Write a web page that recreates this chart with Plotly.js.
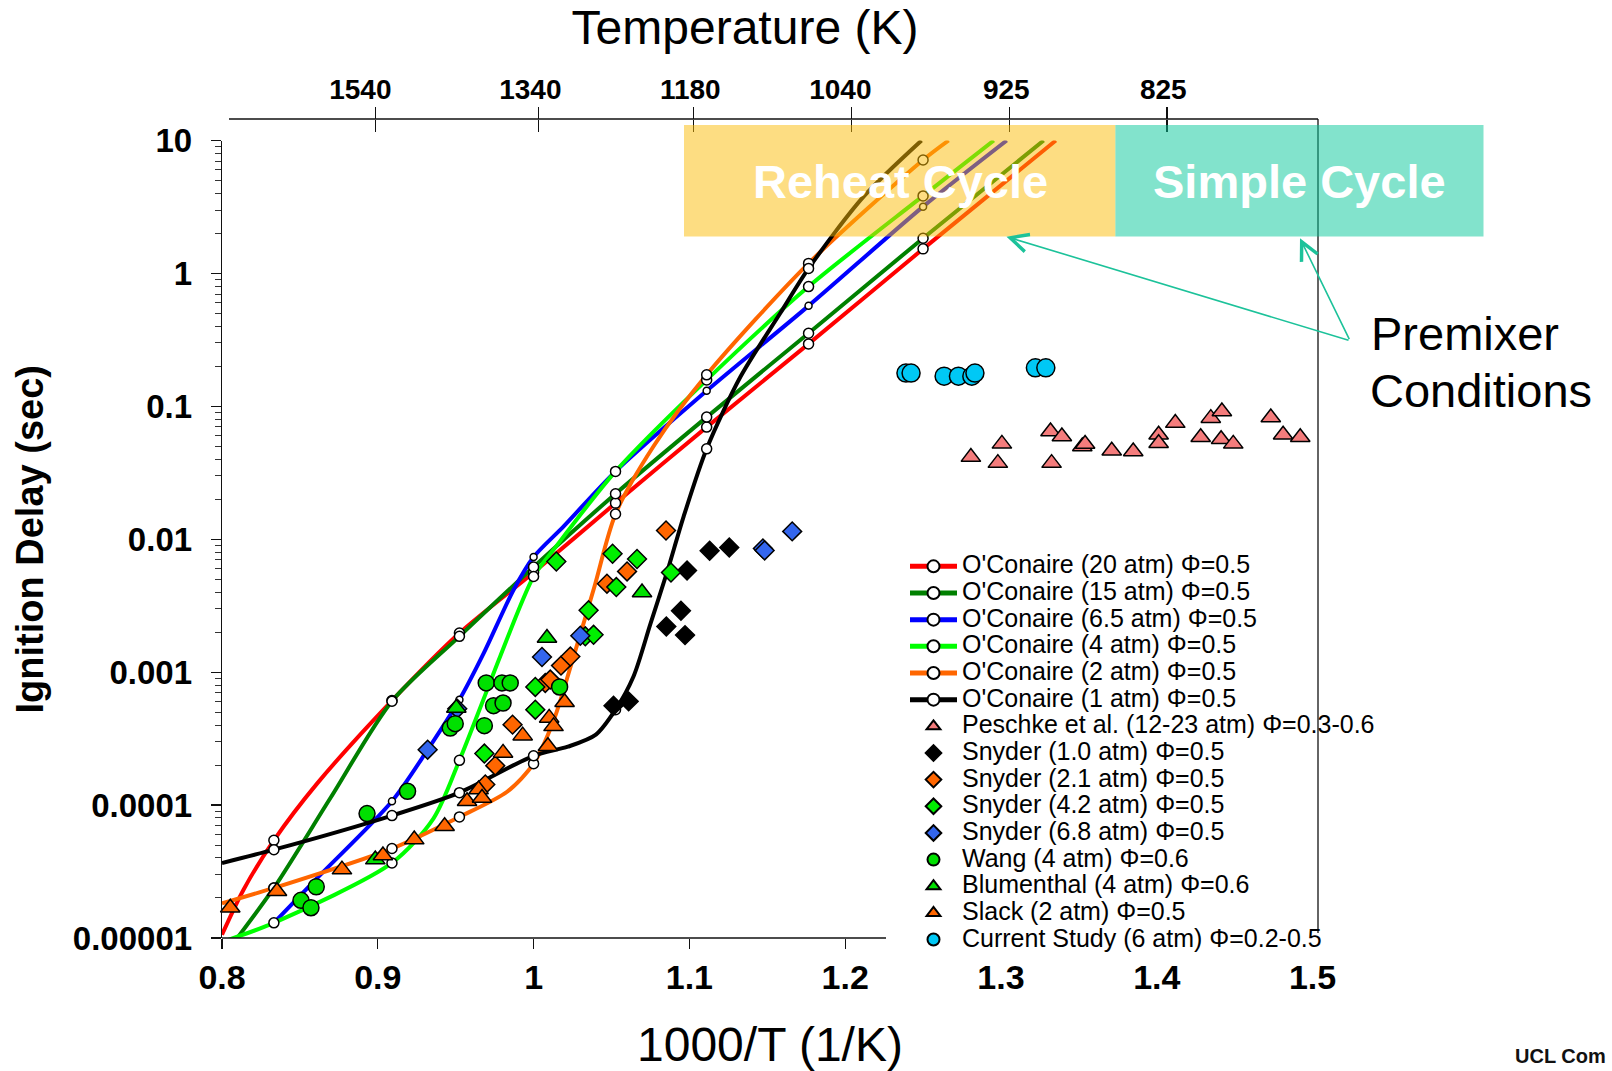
<!DOCTYPE html>
<html><head><meta charset="utf-8">
<script src="https://cdn.plot.ly/plotly-3.0.1.min.js"></script>
<style>html,body{margin:0;padding:0;background:#fff;overflow:hidden}</style>
</head><body><div id="chart" style="width:1612px;height:1071px"></div>
<script>
// ---------------- DATA ----------------
// model points (open circles) at 1000/T = 1200,1100,1050,1000,950,900,850,800 K
const modelX = [0.8333, 0.9091, 0.9524, 1.0, 1.0526, 1.1111, 1.1765, 1.25];
const oc20Pts = [5.43e-5, 6.11e-4, 1.97e-3, 5.62e-3, 0.0187, 0.0698, 0.295, 1.53];
const oc15Pts = [2.38e-5, 6.05e-4, 1.86e-3, 6.18e-3, 0.0220, 0.0830, 0.355, 1.84];
const oc65Pts = [1.30e-5, 1.07e-4, 6.21e-4, 7.35e-3, 0.0324, 0.131, 0.570, 3.18];
const oc4Pts  = [1.30e-5, 3.67e-5, 2.17e-4, 5.25e-3, 0.0324, 0.158, 0.796, 3.83];
const oc2Pts  = [2.38e-5, 4.71e-5, 8.15e-5, 2.05e-4, 0.0155, 0.1726, 1.19, 7.13];
const oc1Pts  = [4.62e-5, 8.34e-5, 1.24e-4, 2.35e-4, 5.22e-4, 0.0479, 1.09, null];

// model curves
const oc20LineX = [0.8, 0.8139, 0.8333, 0.861, 0.9091, 0.9524, 1.0, 1.0526, 1.1111, 1.1765, 1.25, 1.3352];
const oc20LineY = [1.06e-5, 2.32e-5, 5.43e-5, 1.45e-4, 6.11e-4, 1.97e-3, 5.62e-3, 0.0187, 0.0698, 0.295, 1.53, 10];
const oc15LineX = [0.8, 0.8333, 0.87, 0.9091, 0.9524, 1.0, 1.0526, 1.1111, 1.1765, 1.25, 1.3274];
const oc15LineY = [7.05e-6, 2.38e-5, 1.15e-4, 6.05e-4, 1.86e-3, 6.18e-3, 0.0220, 0.0830, 0.355, 1.84, 10];
const oc65LineX = [0.8333, 0.861, 0.9091, 0.932, 0.9524, 0.968, 0.9872, 1.0, 1.0193, 1.0526, 1.1111, 1.1765, 1.25, 1.3037];
const oc65LineY = [1.30e-5, 2.82e-5, 1.07e-4, 2.61e-4, 6.21e-4, 1.39e-3, 4.17e-3, 7.35e-3, 0.0125, 0.0324, 0.131, 0.570, 3.18, 10];
const oc4LineX = [0.8, 0.8333, 0.9091, 0.9358, 0.9524, 0.968, 0.9786, 1.0, 1.0128, 1.0526, 1.1111, 1.1765, 1.25, 1.2954];
const oc4LineY = [9.33e-6, 1.30e-5, 3.67e-5, 7.94e-5, 2.17e-4, 6.31e-4, 1.32e-3, 5.25e-3, 8.34e-3, 0.0324, 0.158, 0.796, 3.83, 10];
const oc2LineX = [0.8, 0.8333, 0.9091, 0.9524, 0.983, 1.0, 1.013, 1.026, 1.039, 1.0526, 1.077, 1.1111, 1.1765, 1.25, 1.2664];
const oc2LineY = [1.82e-5, 2.38e-5, 4.71e-5, 8.15e-5, 1.26e-4, 2.05e-4, 4.37e-4, 1.35e-3, 4.37e-3, 0.0155, 0.0501, 0.1726, 1.19, 7.13, 10];
const oc1LineX = [0.8, 0.8333, 0.9091, 0.9524, 1.0, 1.022, 1.04, 1.0526, 1.0642, 1.0749, 1.0856, 1.0963, 1.1111, 1.1327, 1.1583, 1.1765, 1.2118, 1.249];
const oc1LineY = [3.67e-5, 4.62e-5, 8.34e-5, 1.24e-4, 2.35e-4, 2.75e-4, 3.39e-4, 5.22e-4, 9.33e-4, 2.29e-3, 5.62e-3, 0.0148, 0.0479, 0.166, 0.501, 1.09, 3.78, 10];

// experimental data
const peschkeX = [1.2807, 1.3006, 1.2980, 1.3318, 1.3391, 1.3325, 1.3522, 1.3540, 1.3711, 1.3849, 1.4012, 1.4012, 1.4119, 1.4282, 1.4347, 1.4418, 1.4413, 1.4491, 1.4732, 1.4811, 1.4921];
const peschkeY = [0.0415, 0.0522, 0.0374, 0.0647, 0.0593, 0.0374, 0.0499, 0.0520, 0.0463, 0.0457, 0.0611, 0.0528, 0.0748, 0.0586, 0.0815, 0.0914, 0.0566, 0.0522, 0.0824, 0.0611, 0.0586];
const snyder10X = [1.0513, 1.0610, 1.0852, 1.0946, 1.0972, 1.0985, 1.1130, 1.1256];
const snyder10Y = [5.6e-4, 6.03e-4, 2.21e-3, 2.9e-3, 1.9e-3, 5.82e-3, 8.2e-3, 8.67e-3];
const snyder21X = [0.9690, 0.9754, 0.9865, 1.0075, 1.0107, 1.0176, 1.0236, 1.0471, 1.0600, 1.0850];
const snyder21Y = [1.43e-4, 1.98e-4, 4.03e-4, 8.3e-4, 8.79e-4, 1.12e-3, 1.31e-3, 4.63e-3, 5.73e-3, 0.01164];
const snyder42X = [0.9684, 1.0011, 1.0011, 1.0146, 1.0332, 1.0353, 1.0385, 1.0507, 1.0531, 1.0664, 1.0882];
const snyder42Y = [2.44e-4, 5.22e-4, 7.74e-4, 6.8e-3, 1.86e-3, 2.92e-3, 1.91e-3, 7.78e-3, 4.37e-3, 7.1e-3, 5.62e-3];
const snyder68X = [0.932, 0.951, 1.0054, 1.030, 1.1472, 1.1483, 1.166];
const snyder68Y = [2.61e-4, 5.31e-4, 1.30e-3, 1.88e-3, 8.53e-3, 8.24e-3, 0.01146];
const wangX = [0.8507, 0.8571, 0.8605, 0.8931, 0.9191, 0.9465, 0.9497, 0.9684, 0.9696, 0.9743, 0.9797, 0.9804, 0.9850, 1.0167];
const wangY = [1.92e-5, 1.69e-5, 2.43e-5, 8.63e-5, 1.27e-4, 3.8e-4, 4.1e-4, 3.96e-4, 8.3e-4, 5.6e-4, 8.3e-4, 5.86e-4, 8.3e-4, 7.74e-4];
const blumX = [0.8984, 0.9504, 1.0086, 1.0696];
const blumY = [3.89e-5, 5.38e-4, 1.81e-3, 3.98e-3];
const slackX = [0.8053, 0.8353, 0.8770, 0.9033, 0.9234, 0.9429, 0.9573, 0.9647, 0.9669, 0.9804, 0.9930, 1.0092, 1.0100, 1.0128, 1.0199];
const slackY = [1.69e-5, 2.25e-5, 3.27e-5, 4.17e-5, 5.5e-5, 6.93e-5, 1.07e-4, 1.31e-4, 1.13e-4, 2.47e-4, 3.33e-4, 2.77e-4, 4.53e-4, 3.91e-4, 5.93e-4];
const currentX = [1.2390, 1.2423, 1.2635, 1.2727, 1.2813, 1.2833, 1.3221, 1.3288];
const currentY = [0.178, 0.178, 0.1686, 0.1686, 0.1686, 0.178, 0.1948, 0.1948];

// tick labels
const xTickVals = [0.8, 0.9, 1.0, 1.1, 1.2, 1.3, 1.4, 1.5];
const xTickText = ['0.8', '0.9', '1', '1.1', '1.2', '1.3', '1.4', '1.5'];
const xTickMarks = [0.8, 0.9, 1.0, 1.1, 1.2];
const yTickVals = [10, 1, 0.1, 0.01, 0.001, 0.0001, 0.00001];
const yTickText = ['10', '1', '0.1', '0.01', '0.001', '0.0001', '0.00001'];
const topTickPos = [0.8984, 1.0032, 1.1027, 1.2042, 1.3056, 1.4067];
const topLabelPos = [0.8888, 0.9979, 1.1006, 1.1969, 1.3034, 1.4042];
const topLabels = ['1540', '1340', '1180', '1040', '925', '825'];

// ---------------- LAYOUT HELPERS ----------------
const FONT = 'Liberation Sans, Arial, Helvetica, sans-serif';
const L = 222, R = 1318, T = 119, B = 938;
const px = v => (v - L) / (R - L);
const py = v => (B - v) / (B - T);
const xRange = [0.8, 1.5035];

const curves = [
  {name: "O'Conaire (20 atm) Φ=0.5", lx: oc20LineX, ly: oc20LineY, py: oc20Pts, color: '#FF0000', ms: 10},
  {name: "O'Conaire (15 atm) Φ=0.5", lx: oc15LineX, ly: oc15LineY, py: oc15Pts, color: '#008000', ms: 10},
  {name: "O'Conaire (6.5 atm) Φ=0.5", lx: oc65LineX, ly: oc65LineY, py: oc65Pts, color: '#0000FF', ms: 7},
  {name: "O'Conaire (4 atm) Φ=0.5", lx: oc4LineX, ly: oc4LineY, py: oc4Pts, color: '#00FF00', ms: 10},
  {name: "O'Conaire (2 atm) Φ=0.5", lx: oc2LineX, ly: oc2LineY, py: oc2Pts, color: '#FF6600', ms: 10},
  {name: "O'Conaire (1 atm) Φ=0.5", lx: oc1LineX, ly: oc1LineY, py: oc1Pts, color: '#000000', ms: 10}
];
const lg = s => '<span style="font-size:25px">' + s + '</span>';

const traces = [];
curves.forEach(c => {
  traces.push({
    type: 'scatter', mode: 'lines+markers', x: c.lx, y: c.ly, name: lg(c.name),
    line: {color: c.color, width: 4, shape: 'spline', smoothing: 0.8},
    marker: {size: c.ms, color: '#FFFFFF', line: {color: '#000', width: 1.5}},
    selectedpoints: [], unselected: {marker: {opacity: 0}},
    hoverinfo: 'skip'
  });
});
curves.forEach(c => {
  traces.push({
    type: 'scatter', mode: 'markers', x: modelX, y: c.py, showlegend: false,
    marker: {size: c.ms, color: '#FFFFFF', line: {color: '#000', width: 1.5}},
    cliponaxis: false, hoverinfo: 'skip'
  });
});
const sc = (name, x, y, symbol, color, size) => ({
  type: 'scatter', mode: 'markers', x: x, y: y, name: lg(name), cliponaxis: false,
  marker: {symbol: symbol, size: size, color: color, line: {color: '#000', width: 1.5}}
});
traces.push(sc('Peschke et al. (12-23 atm) Φ=0.3-0.6', peschkeX, peschkeY, 'triangle-up', '#F47C7C', 17));
traces.push(sc('Snyder (1.0 atm) Φ=0.5', snyder10X, snyder10Y, 'diamond', '#000000', 14.5));
traces.push(sc('Snyder (2.1 atm) Φ=0.5', snyder21X, snyder21Y, 'diamond', '#FF6600', 14.5));
traces.push(sc('Snyder (4.2 atm) Φ=0.5', snyder42X, snyder42Y, 'diamond', '#00F000', 14.5));
traces.push(sc('Snyder (6.8 atm) Φ=0.5', snyder68X, snyder68Y, 'diamond', '#3366EE', 14.5));
traces.push(sc('Wang (4 atm) Φ=0.6', wangX, wangY, 'circle', '#00E000', 16));
traces.push(sc('Blumenthal (4 atm) Φ=0.6', blumX, blumY, 'triangle-up', '#00E000', 17));
traces.push(sc('Slack (2 atm) Φ=0.5', slackX, slackY, 'triangle-up', '#FF6600', 17));
traces.push(sc('Current Study (6 atm) Φ=0.2-0.5', currentX, currentY, 'circle', '#00C8F5', 18));
// empty carriers so the decorative overlay axes get drawn
['x2', 'x3', 'x4', 'x5'].forEach(ax => traces.push({
  type: 'scatter', mode: 'markers', x: [], y: [], xaxis: ax, yaxis: 'y', showlegend: false, hoverinfo: 'skip'
}));

const noGrid = {showgrid: false, zeroline: false};
const layout = {
  width: 1612, height: 1071, autosize: false,
  paper_bgcolor: '#FFFFFF', plot_bgcolor: '#FFFFFF',
  margin: {l: L, r: 1612 - R, t: T, b: 1071 - B, pad: 0},
  font: {family: FONT, color: '#000'},
  showlegend: true,
  title: {text: 'Temperature (K)', font: {family: FONT, size: 48, color: '#000'},
          xref: 'container', x: 745 / 1612, xanchor: 'center',
          yref: 'container', y: 1 - 27.5 / 1071, yanchor: 'middle'},
  xaxis: Object.assign({
    range: xRange, tickmode: 'array', tickvals: xTickVals, ticktext: xTickText,
    ticks: '', showline: false, ticklabelstandoff: 16,
    tickfont: {family: FONT, size: 34, weight: 'bold', color: '#000'},
    title: {text: '1000/T (1/K)', font: {family: FONT, size: 48, color: '#000'}, standoff: 35}
  }, noGrid),
  xaxis5: Object.assign({
    overlaying: 'x', anchor: 'y', side: 'bottom', range: xRange,
    tickmode: 'array', tickvals: xTickMarks, ticks: 'outside', ticklen: 10, tickwidth: 1.3,
    tickcolor: '#111', showticklabels: false, showline: false
  }, noGrid),
  xaxis2: Object.assign({
    overlaying: 'x', anchor: 'free', position: 1, side: 'top', range: xRange,
    tickmode: 'array', tickvals: topTickPos, ticks: 'outside', ticklen: 12, tickwidth: 1.5,
    tickcolor: '#111', showticklabels: false, showline: false
  }, noGrid),
  xaxis3: Object.assign({
    overlaying: 'x', anchor: 'free', position: 1, side: 'top', range: xRange,
    tickmode: 'array', tickvals: topTickPos, ticks: 'inside', ticklen: 12, tickwidth: 1.5,
    tickcolor: '#111', showticklabels: false, showline: false
  }, noGrid),
  xaxis4: Object.assign({
    overlaying: 'x', anchor: 'free', position: 1, side: 'top', range: xRange,
    tickmode: 'array', tickvals: topLabelPos, ticktext: topLabels, ticks: '',
    showline: false, ticklabelstandoff: 14,
    tickfont: {family: FONT, size: 28, weight: 'bold', color: '#000'}
  }, noGrid),
  yaxis: Object.assign({
    type: 'log', range: [-5, 1], domain: [0, (B - 140.5) / (B - T)],
    tickmode: 'array', tickvals: yTickVals, ticktext: yTickText,
    ticks: 'outside', ticklen: 10, tickwidth: 1.3, tickcolor: '#111',
    showline: true, linecolor: '#111', linewidth: 1.3,
    minor: {ticks: 'outside', ticklen: 6, tickwidth: 1, tickcolor: '#333', dtick: 'D1'},
    tickfont: {family: FONT, size: 33, weight: 'bold', color: '#000'},
    ticklabelstandoff: 12,
    title: {text: 'Ignition Delay (sec)', font: {family: FONT, size: 38, weight: 'bold', color: '#000'}, standoff: 17}
  }, noGrid),
  legend: {
    x: px(905), y: py(548), xanchor: 'left', yanchor: 'top',
    bgcolor: 'rgba(0,0,0,0)', borderwidth: 0,
    font: {family: FONT, size: 18.2, color: '#000'},
    itemwidth: 47, itemsizing: 'constant', tracegroupgap: 0
  },
  shapes: [
    {type: 'line', xref: 'paper', yref: 'paper', x0: 1, x1: 1, y0: py(933), y1: 1, line: {color: '#111', width: 1.3}, layer: 'above'},
    {type: 'line', xref: 'paper', yref: 'paper', x0: px(229), x1: 1, y0: 1, y1: 1, line: {color: '#111', width: 1.3}, layer: 'above'},
    {type: 'line', xref: 'paper', yref: 'paper', x0: 0, x1: px(886), y0: 0, y1: 0, line: {color: '#111', width: 1.3}, layer: 'above'},
    {type: 'rect', xref: 'paper', yref: 'paper', x0: px(684), x1: px(1115.4), y0: py(236.5), y1: py(125),
     fillcolor: 'rgb(252,188,6)', opacity: 0.5, line: {width: 0}, layer: 'above'},
    {type: 'rect', xref: 'paper', yref: 'paper', x0: px(1115.4), x1: px(1483.5), y0: py(236.5), y1: py(125),
     fillcolor: 'rgb(5,199,153)', opacity: 0.5, line: {width: 0}, layer: 'above'}
  ],
  annotations: [
    {text: 'Reheat Cycle', xref: 'paper', yref: 'paper', x: px(900), y: py(182), xanchor: 'center', yanchor: 'middle',
     showarrow: false, font: {family: FONT, size: 47, weight: 'bold', color: '#FFFFFF'}},
    {text: 'Simple Cycle', xref: 'paper', yref: 'paper', x: px(1299.5), y: py(182), xanchor: 'center', yanchor: 'middle',
     showarrow: false, font: {family: FONT, size: 47, weight: 'bold', color: '#FFFFFF'}},
    {text: 'Premixer', xref: 'paper', yref: 'paper', x: px(1369), y: py(333.4), xanchor: 'left', yanchor: 'middle',
     showarrow: false, font: {family: FONT, size: 47, color: '#000'}},
    {text: 'Conditions', xref: 'paper', yref: 'paper', x: px(1368), y: py(390), xanchor: 'left', yanchor: 'middle',
     showarrow: false, font: {family: FONT, size: 47, color: '#000'}},
    {text: '', xref: 'paper', yref: 'paper', x: px(1006.5), y: py(236.7), ax: 343.5, ay: 104,
     showarrow: true, arrowhead: 5, arrowsize: 2.2, arrowwidth: 1.6, arrowcolor: '#1CC29A', standoff: 0, startstandoff: 0},
    {text: '', xref: 'paper', yref: 'paper', x: px(1300), y: py(238.3), ax: 50, ay: 102.4,
     showarrow: true, arrowhead: 5, arrowsize: 2.2, arrowwidth: 1.6, arrowcolor: '#1CC29A', standoff: 0, startstandoff: 0},
    {text: 'UCL Com', xref: 'paper', yref: 'paper', x: px(1608), y: py(1069), xanchor: 'right', yanchor: 'bottom',
     showarrow: false, font: {family: FONT, size: 20, weight: 'bold', color: '#111'}}
  ]
};

Plotly.newPlot('chart', traces, layout, {displayModeBar: false, staticPlot: true});
</script>
</body></html>
